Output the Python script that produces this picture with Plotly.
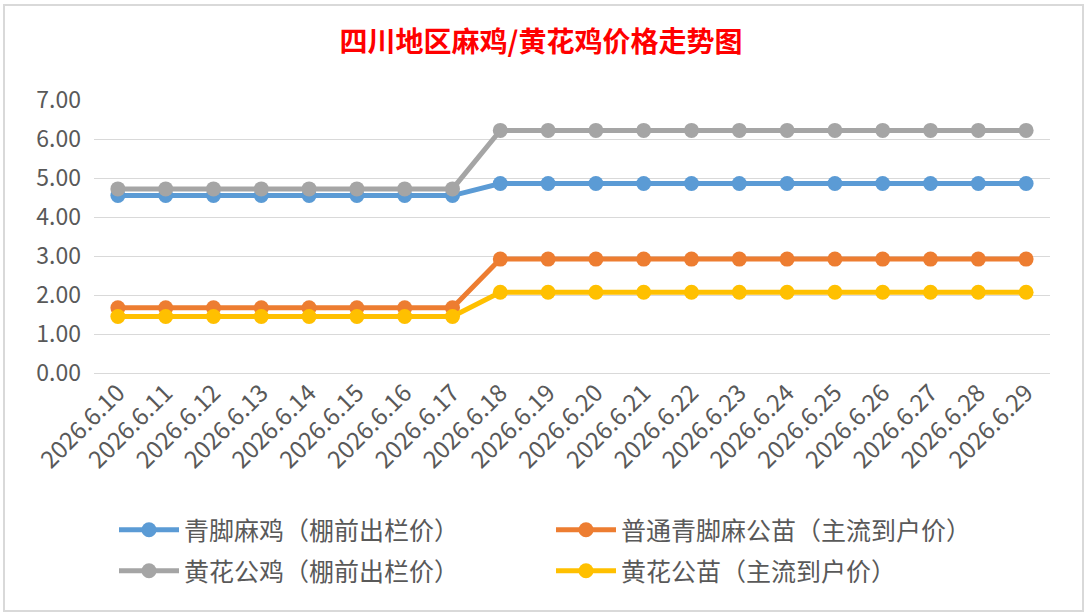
import plotly.graph_objects as go

# categories and series values
dates = [f"2026.6.{d}" for d in range(10, 30)]

qingjiao_ma_ji = [4.55] * 8 + [4.86] * 12         # 青脚麻鸡（棚前出栏价）
putong_gongmiao = [1.67] * 8 + [2.92] * 12        # 普通青脚麻公苗（主流到户价）
huanghua_gongji = [4.72] * 8 + [6.22] * 12        # 黄花公鸡（棚前出栏价）
huanghua_gongmiao = [1.45] * 8 + [2.07] * 12      # 黄花公苗（主流到户价）

series = [
    ("青脚麻鸡（棚前出栏价）", qingjiao_ma_ji, "#5B9BD5", "legend"),
    ("普通青脚麻公苗（主流到户价）", putong_gongmiao, "#ED7D31", "legend"),
    ("黄花公鸡（棚前出栏价）", huanghua_gongji, "#A5A5A5", "legend2"),
    ("黄花公苗（主流到户价）", huanghua_gongmiao, "#FFC000", "legend2"),
]

FONT = "Noto Sans CJK SC"
W, H = 1087, 616
# plot area in pixels
L, R, T, B = 94, 37, 100, 243
plot_w = W - L - R
plot_h = H - T - B


def px_x(x):
    return (x - L) / plot_w


def px_y(y):
    return (H - B - y) / plot_h


fig = go.Figure()
for name, vals, color, leg in series:
    fig.add_trace(go.Scatter(
        x=dates, y=vals, name=name, mode="lines+markers",
        line=dict(color=color, width=5),
        marker=dict(color=color, size=15),
        legend=leg,
    ))

legend_common = dict(
    orientation="h", xanchor="left", yanchor="middle",
    entrywidth=362, entrywidthmode="pixels",
    font=dict(family=FONT, size=25, color="#595959"),
    bgcolor="rgba(0,0,0,0)", itemwidth=60,
)

fig.update_layout(
    width=W, height=H,
    margin=dict(l=L, r=R, t=T, b=B, autoexpand=False),
    paper_bgcolor="white", plot_bgcolor="white",
    font=dict(family=FONT, color="#595959"),
    title=dict(
        text="<b>四川地区麻鸡/黄花鸡价格走势图</b>",
        font=dict(family=FONT, size=28, color="#FF0000"),
        x=541 / W, xanchor="center", y=1 - 42 / H, yanchor="middle",
    ),
    legend=dict(x=px_x(114), y=px_y(530), **legend_common),
    legend2=dict(x=px_x(114), y=px_y(571), **legend_common),
    xaxis=dict(
        type="category", tickangle=-45, automargin=False,
        tickfont=dict(family=FONT, size=24, color="#595959"),
        showgrid=False, showline=False, ticks="",
        range=[-0.5, len(dates) - 0.5],
    ),
    yaxis=dict(
        range=[0, 7], dtick=1, tickformat=".2f", automargin=False,
        tickfont=dict(family=FONT, size=23, color="#595959"),
        showgrid=True, gridcolor="#D9D9D9", gridwidth=1.3,
        zeroline=True, zerolinecolor="#D9D9D9", zerolinewidth=1.3,
        showline=False, ticks="", ticklabelstandoff=12,
    ),
    shapes=[dict(
        type="rect", xref="paper", yref="paper",
        x0=px_x(4), x1=px_x(1083), y0=px_y(611), y1=px_y(5),
        line=dict(color="#D9D9D9", width=2), layer="below",
    )],
)

# drop the default page margin so the figure sits at the window's top-left
fig.write_html(
    "out.html",
    config={"displayModeBar": False},
    post_script="document.body.style.margin='0';",
)
